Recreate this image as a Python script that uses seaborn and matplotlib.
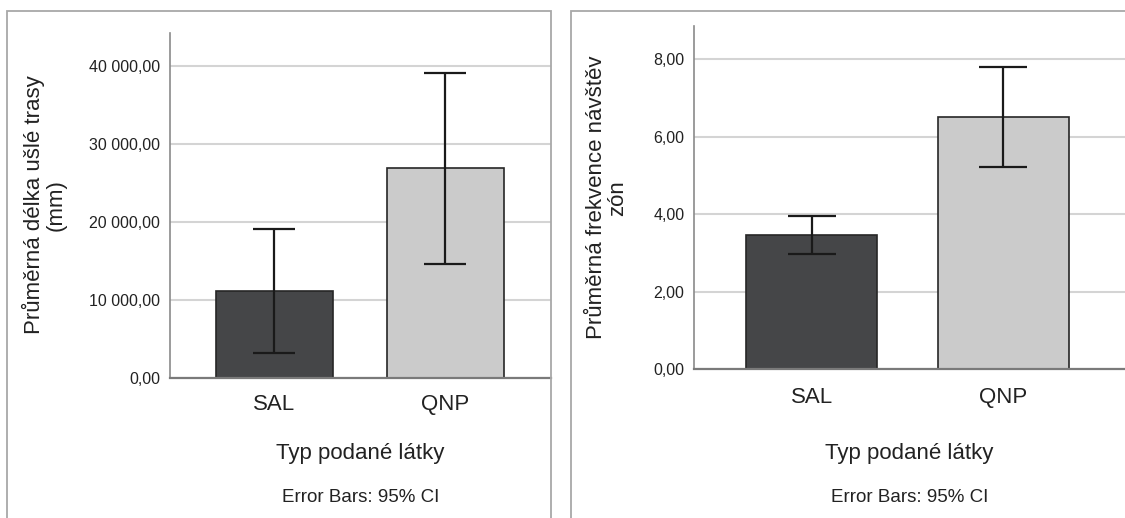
import numpy as np
import pandas as pd
import matplotlib
matplotlib.use("Agg")
import matplotlib.pyplot as plt
from matplotlib.patches import Rectangle
from matplotlib.ticker import FuncFormatter, FixedLocator
import seaborn as sns

# ---------------- data ----------------
categories = ["SAL", "QNP"]

dist_mean = [11130, 26880]
dist_ci_low = [3130, 14600]
dist_ci_high = [19130, 39110]
dist_ticks = [0, 10000, 20000, 30000, 40000]

freq_mean = [3.46, 6.52]
freq_ci_low = [2.97, 5.23]
freq_ci_high = [3.96, 7.81]
freq_ticks = [0, 2, 4, 6, 8]

ylabel_left = "Průměrná délka ušlé trasy\n(mm)"
ylabel_right = "Průměrná frekvence návštěv\nzón"
xlabel_text = "Typ podané látky"
note_text = "Error Bars: 95% CI"

bar_colors = ["#454648", "#cbcbcb"]

# ---------------- style ----------------
sns.set_style("white")
plt.rcParams["font.family"] = ["Liberation Sans", "DejaVu Sans"]

W, H = 1125, 518
fig = plt.figure(figsize=(W / 100, H / 100), dpi=100)
fig.patch.set_facecolor("white")


def fx(px):
    return px / W


def fy(py):
    return 1 - py / H


# panel frames
fig.add_artist(Rectangle((fx(7), fy(530)), fx(551) - fx(7), fy(11) - fy(530),
                         transform=fig.transFigure, fill=False,
                         edgecolor="#a8a8a8", linewidth=1.3))
fig.add_artist(Rectangle((fx(571), fy(530)), fx(1140) - fx(571), fy(11) - fy(530),
                         transform=fig.transFigure, fill=False,
                         edgecolor="#a8a8a8", linewidth=1.3))


def fmt(v, pos=None):
    s = f"{v:,.2f}"
    return s.replace(",", " ").replace(".", ",")


def panel(rect, means, lo, hi, ticks, ymax, xlim, capsize, ylabel,
          ylabel_xy, pad_x):
    ax = fig.add_axes(rect)
    df = pd.DataFrame({"cat": categories, "val": means})
    sns.barplot(data=df, x="cat", y="val", hue="cat", palette=bar_colors,
                legend=False, errorbar=None, width=0.684,
                edgecolor="#262626", linewidth=1.2, ax=ax, zorder=3)
    pos = np.arange(len(categories))
    m = np.array(means)
    yerr = np.vstack([m - np.array(lo), np.array(hi) - m])
    ax.errorbar(pos, m, yerr=yerr, fmt="none", ecolor="#1a1a1a",
                elinewidth=1.6, capsize=capsize, capthick=1.6, zorder=4)
    ax.set_xlim(*xlim)
    ax.set_ylim(0, ymax)
    ax.yaxis.set_major_locator(FixedLocator(ticks))
    ax.yaxis.set_major_formatter(FuncFormatter(fmt))
    ax.grid(axis="y", color="#d4d4d4", linewidth=1.5, zorder=0)
    ax.grid(axis="x", visible=False)
    ax.set_axisbelow(True)
    for s in ["top", "right"]:
        ax.spines[s].set_visible(False)
    ax.spines["left"].set_color("#8a8a8a")
    ax.spines["left"].set_linewidth(1.2)
    ax.spines["bottom"].set_color("#7a7a7a")
    ax.spines["bottom"].set_linewidth(1.6)
    ax.spines["bottom"].set_zorder(5)
    ax.tick_params(axis="y", length=0, pad=7, labelsize=11.5, labelcolor="#222222")
    ax.tick_params(axis="x", length=0, pad=pad_x, labelsize=16, labelcolor="#222222")
    ax.set_xlabel("")
    ax.set_ylabel("")
    ax.set_facecolor("white")
    fig.text(ylabel_xy[0], ylabel_xy[1], ylabel, rotation=90, ha="center",
             va="center", multialignment="center", fontsize=16,
             linespacing=1.05, color="#222222")
    cx = rect[0] + rect[2] / 2
    fig.text(cx, fy(453), xlabel_text, ha="center", va="center", fontsize=16,
             color="#222222")
    fig.text(cx, fy(497), note_text, ha="center", va="center", fontsize=13.5,
             color="#222222")
    return ax


# left panel
panel([fx(170), fy(377.7), fx(551) - fx(170), fy(32.7) - fy(377.7)],
      dist_mean, dist_ci_low, dist_ci_high, dist_ticks, 44290,
      (-0.611, 1.617), 15, ylabel_left, (fx(44), fy(205)), 12)

# right panel
panel([fx(694), fy(369.3), fx(1125) - fx(694), fy(26) - fy(369.3)],
      freq_mean, freq_ci_low, freq_ci_high, freq_ticks, 8.86,
      (-0.614, 1.637), 17, ylabel_right, (fx(607), fy(197.7)), 13)

fig.savefig("out.png", dpi=100, facecolor="white")
